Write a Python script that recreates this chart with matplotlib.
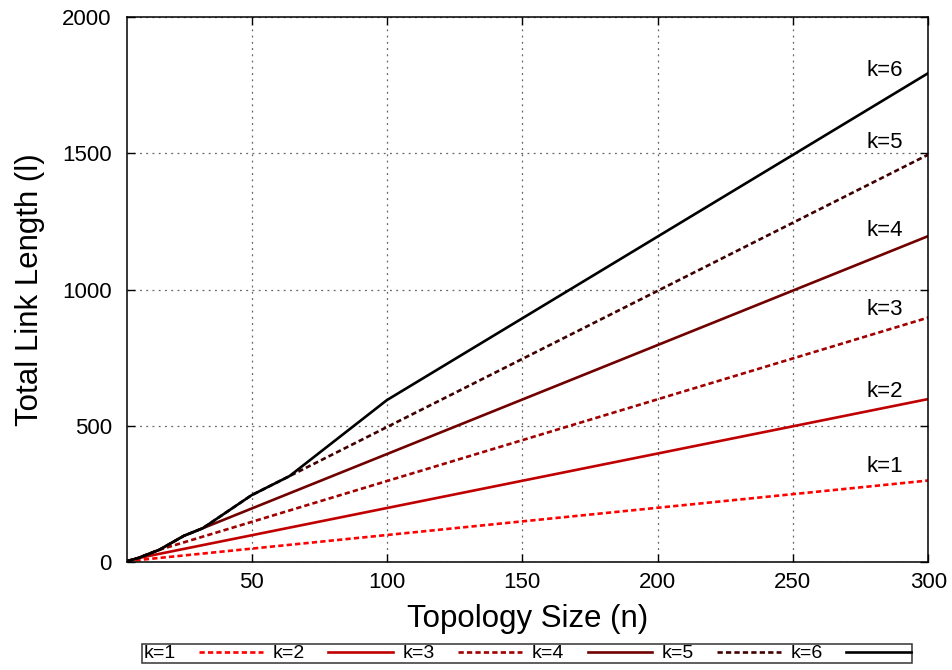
import matplotlib.pyplot as plt

plt.rcParams['font.family'] = ['Liberation Sans', 'DejaVu Sans']

# topology sizes and total link length for each k
n = [4, 8, 16, 25, 32, 50, 64, 100, 150, 200, 250, 300]
k1 = [3, 7, 15, 24, 31, 49, 63, 99, 149, 199, 249, 299]
k2 = [3, 14, 30, 48, 62, 98, 126, 198, 298, 398, 498, 598]
k3 = [3, 14, 45, 72, 93, 147, 189, 297, 447, 597, 747, 897]
k4 = [3, 14, 45, 96, 124, 196, 252, 396, 596, 796, 996, 1196]
k5 = [3, 14, 45, 96, 124, 245, 315, 495, 745, 995, 1245, 1495]
k6 = [3, 14, 45, 96, 124, 245, 315, 594, 894, 1194, 1494, 1794]

names = ['k=1', 'k=2', 'k=3', 'k=4', 'k=5', 'k=6']
series = [k1, k2, k3, k4, k5, k6]
colors = ['#ff0000', '#c00000', '#a00000', '#700000', '#400000', '#000000']
styles = [(0, (2, 1.2)), '-', (0, (2, 1.2)), '-', (0, (2, 1.2)), '-']
label_y = [352, 627, 925, 1215, 1541, 1805]

fig = plt.figure(figsize=(9.52, 6.70), dpi=100)
ax = fig.add_axes([0.1334, 0.1612, 0.975 - 0.1334, 0.9746 - 0.1612])

for name, ys, c, ls in zip(names, series, colors, styles):
    ax.plot(n, ys, color=c, linestyle=ls, linewidth=1.9, label=name)

for name, y in zip(names, label_y):
    ax.text(284, y, name, ha='center', va='center', fontsize=16)

ax.set_xlim(4, 300)
ax.set_ylim(0, 2000)
ax.set_xticks([50, 100, 150, 200, 250, 300])
ax.set_yticks([0, 500, 1000, 1500, 2000])
ax.tick_params(direction='in', top=True, right=True, labelsize=16, length=6, width=1)
ax.tick_params(axis='y', pad=11)
ax.tick_params(axis='x', pad=7)
ax.grid(True, color='#666666', linestyle=(0, (1.5, 3.5)), linewidth=0.9)
for s in ax.spines.values():
    s.set_linewidth(1.1)

ax.set_xlabel('Topology Size (n)', fontsize=22.5, labelpad=8)
ax.set_ylabel('Total Link Length (l)', fontsize=22.5, labelpad=12)

leg = fig.legend(loc='center', bbox_to_anchor=(0.5536, 0.0246), ncol=6, markerfirst=False,
                 fontsize=14, frameon=True, fancybox=False, edgecolor='black',
                 handlelength=3.3, handletextpad=1.2, columnspacing=0.5, borderpad=0.05,
                 borderaxespad=0)
leg.get_frame().set_linewidth(1.1)

fig.savefig('out.png', dpi=100)
